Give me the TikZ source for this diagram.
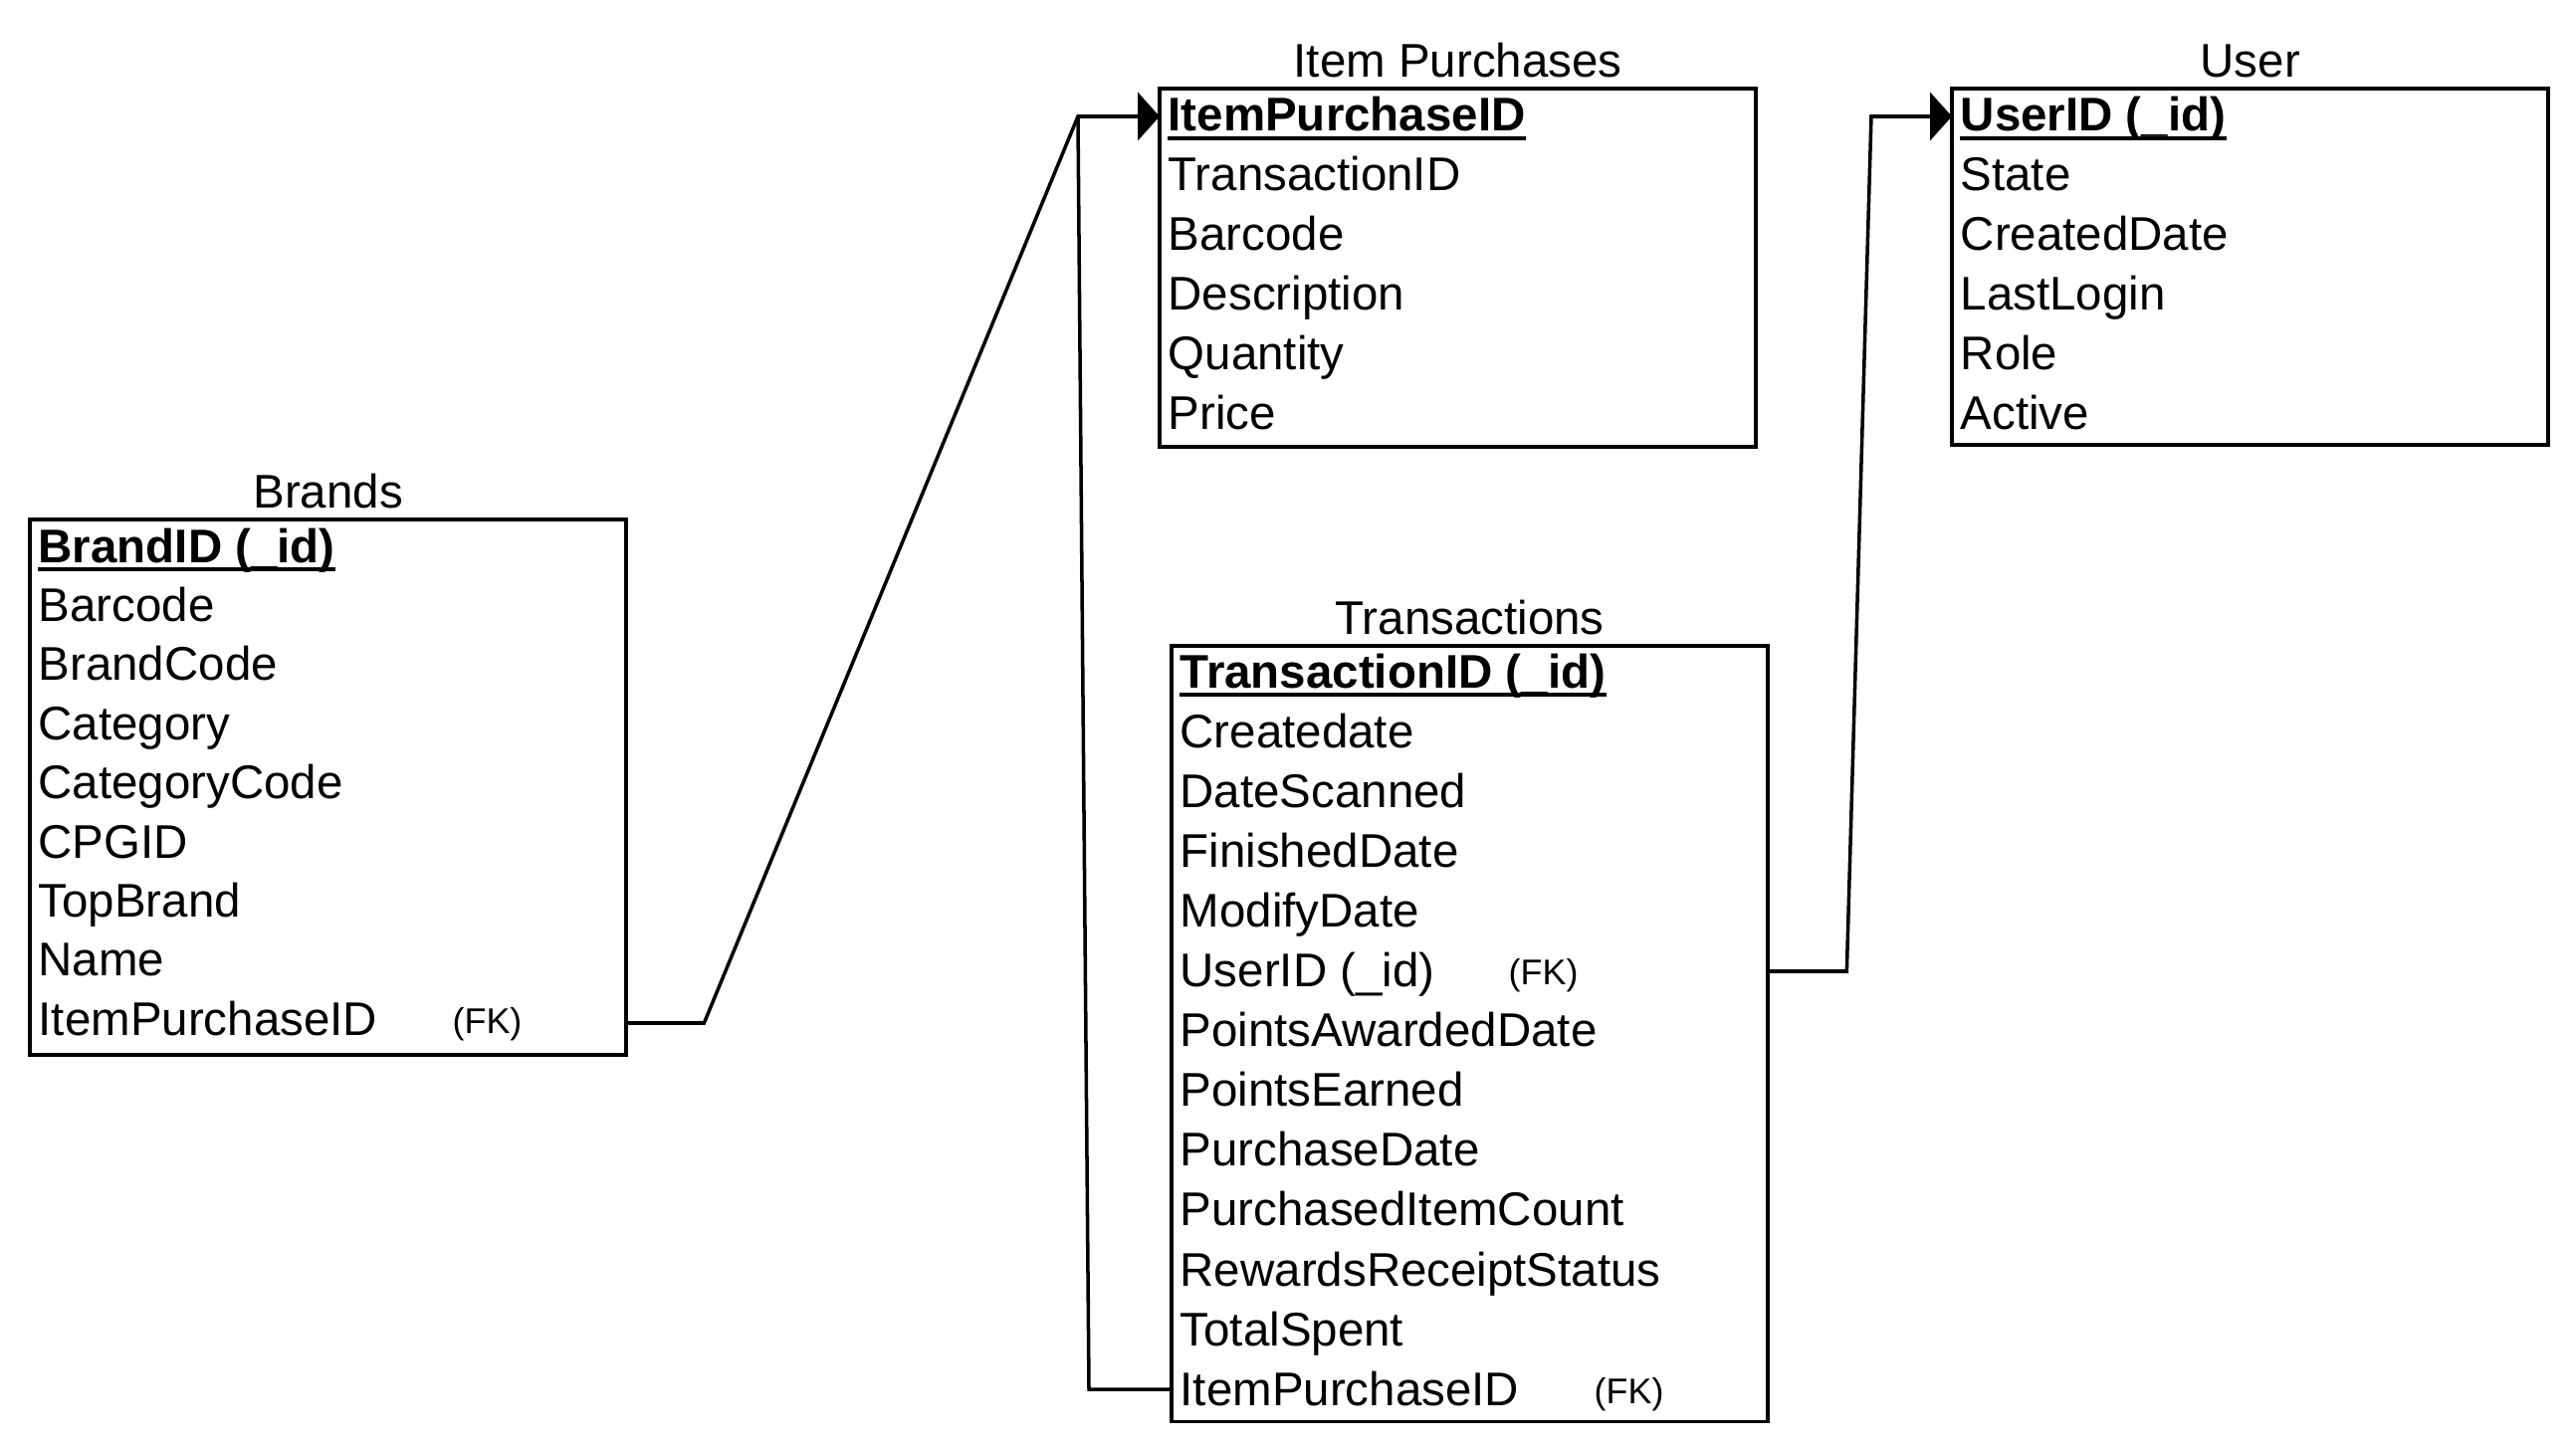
\documentclass[tikz,border=0pt]{standalone}
\usepackage{fontspec}
\setmainfont{Liberation Sans}
\usetikzlibrary{arrows.meta, positioning}
\tikzset{%
	table box/.style={
		draw,
		line width=1.1pt,
		inner sep=0pt,
		outer sep=0pt,
		anchor=north west
	},
	field/.style={
		anchor=base west,
		inner sep=0pt,
		font=\fontsize{13.5}{16}\selectfont
	},
	key field/.style={field, font=\fontsize{13.5}{16}\selectfont\bfseries},
	fk mark/.style={field, font=\fontsize{10.2}{12}\selectfont},
	table title/.style={inner sep=0pt, font=\fontsize{13.5}{16}\selectfont},
	link/.style={line width=1pt},
	key link/.style={link, -{Triangle[length=6.2pt, width=13.6pt]}},
}
\begin{document}
\begin{tikzpicture}[x=0.01cm, y=-0.01cm]
			\useasboundingbox (0,0) rectangle (2588,1455);
			
			% Tables
			\node[table box, minimum width=5.99cm, minimum height=5.38cm] (brands) at (30,522) {};
			\node[table box, minimum width=5.99cm, minimum height=3.60cm] (items) at (1165,89) {};
			\node[table box, minimum width=5.99cm, minimum height=3.58cm] (users) at (1961,89) {};
			\node[table box, minimum width=5.99cm, minimum height=7.79cm] (trans) at (1177,649) {};
			
			\node[table title, above=3.4pt of brands, anchor=base] (brandstitle) {Brands};
			\node[table title, above=3.4pt of items, anchor=base] (itemstitle) {Item Purchases};
			\node[table title, above=3.4pt of users, anchor=base] (userstitle) {User};
			\node[table title, above=3.4pt of trans, anchor=base] (transtitle) {Transactions};
			
			% Fields
			\node[key field] (b1) at (38,565) {BrandID (\_id)};
			\foreach \txt [count=\i from 2] in {Barcode, BrandCode, Category, CategoryCode, CPGID, TopBrand, Name, ItemPurchaseID}
				\node[field] (b\i) at (38,{565+59.4*(\i-1)}) {\txt};
			\node[fk mark] (bfk) at (454,1038) {(FK)};
			
			\node[key field] (ip1) at (1173,132) {ItemPurchaseID};
			\foreach \txt [count=\i from 2] in {TransactionID, Barcode, Description, Quantity, Price}
				\node[field] (ip\i) at (1173,{132+60*(\i-1)}) {\txt};
			
			\node[key field] (u1) at (1969,132) {UserID (\_id)};
			\foreach \txt [count=\i from 2] in {State, CreatedDate, LastLogin, Role, Active}
				\node[field] (u\i) at (1969,{132+60*(\i-1)}) {\txt};
			
			\node[key field] (t1) at (1185,691) {TransactionID (\_id)};
			\foreach \txt [count=\i from 2] in {Createdate, DateScanned, FinishedDate, ModifyDate, UserID (\_id), PointsAwardedDate, PointsEarned, PurchaseDate, PurchasedItemCount, RewardsReceiptStatus, TotalSpent, ItemPurchaseID}
				\node[field] (t\i) at (1185,{691+60.1*(\i-1)}) {\txt};
			\node[fk mark] (tfkuser) at (1515,989) {(FK)};
			\node[fk mark] (tfkitem) at (1601,1410) {(FK)};
			
			% Primary keys are underlined
			\foreach \k in {b1, ip1, u1, t1}
				\draw[line width=1pt] ([yshift=-2pt]\k.base west) -- ([yshift=-2pt]\k.base east);
			
			% Links
			\coordinate (ipjoin) at ([xshift=-0.82cm]items.west |- 0,117);
			\coordinate (ujoin) at ([xshift=-0.81cm]users.west |- 0,117);
			\draw[key link] (brands.east |- 0,1028) -- ++(78,0) -- (ipjoin) -- (items.west |- ipjoin);
			\draw[link] (trans.west |- 0,1396) -- ++(-83,0) -- (ipjoin);
			\draw[key link] (trans.east |- 0,976) -- ++(79,0) -- (ujoin) -- (users.west |- ujoin);
			
		\end{tikzpicture}
\end{document}
